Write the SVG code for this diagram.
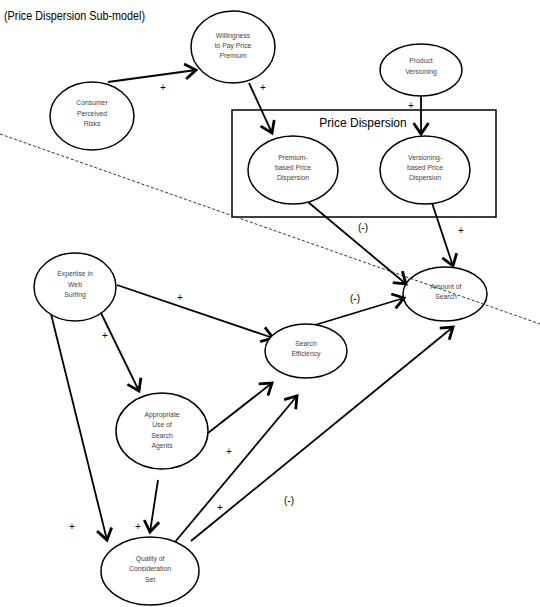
<svg xmlns="http://www.w3.org/2000/svg" width="540" height="607" viewBox="0 0 540 607">
<style>
.node ellipse{fill:#fff;stroke:#000;stroke-width:1.5}
.nt{font-family:"Liberation Sans","Open Sans",Arial,sans-serif;font-size:6.8px;fill:#444;text-anchor:middle}
.lbl{font-family:"Liberation Sans","Open Sans",Arial,sans-serif;font-size:10px;fill:#000;text-anchor:middle}
.conn line{stroke:#000;stroke-width:1.8;marker-end:url(#arr)}
</style>
<defs>
<marker id="arr" markerUnits="userSpaceOnUse" markerWidth="22" markerHeight="22" viewBox="-15 -11 17 22" refX="0" refY="0" orient="auto">
<path d="M-11,-7.5 L0,0 L-11,7.5" fill="none" stroke="#000" stroke-width="2.8" stroke-linejoin="miter"/>
</marker>
</defs>
<rect width="540" height="607" fill="#fff"/>
<text x="4" y="20" font-family="Liberation Sans, Open Sans, sans-serif" font-size="12.5" textLength="141" lengthAdjust="spacingAndGlyphs">(Price Dispersion Sub-model)</text>

<g id="price-dispersion-box">
<rect x="232" y="110" width="264" height="107" fill="none" stroke="#000" stroke-width="1.5"/>
<text x="363" y="127" font-family="Liberation Sans, Open Sans, sans-serif" font-size="12" text-anchor="middle">Price Dispersion</text>
</g>

<line x1="0" y1="134" x2="540" y2="324" stroke="#333" stroke-width="1" stroke-dasharray="3,2"/>

<g class="conn" id="connectors">
<line x1="108" y1="82" x2="196" y2="70"/>
<line x1="249" y1="83" x2="272" y2="133"/>
<line x1="421" y1="96" x2="421" y2="134"/>
<line x1="308" y1="202" x2="406" y2="284"/>
<line x1="432" y1="203" x2="453" y2="266"/>
<line x1="117" y1="285" x2="273" y2="338"/>
<line x1="315" y1="325" x2="404" y2="298"/>
<line x1="101" y1="313" x2="139" y2="391"/>
<line x1="51" y1="314" x2="107" y2="540"/>
<line x1="208" y1="433" x2="272" y2="383"/>
<line x1="158" y1="480" x2="150" y2="532"/>
<line x1="175" y1="542" x2="297" y2="396"/>
<line x1="191" y1="541" x2="453" y2="327"/>
</g>

<g id="labels">
<text class="lbl" x="163" y="91" font-size="14">+</text>
<text class="lbl" x="263" y="91" font-size="14">+</text>
<text class="lbl" x="411" y="109" font-size="14">+</text>
<text class="lbl" x="363" y="231">(-)</text>
<text class="lbl" x="461" y="234" font-size="13">+</text>
<text class="lbl" x="180" y="301" font-size="9">+</text>
<text class="lbl" x="355" y="302">(-)</text>
<text class="lbl" x="105" y="339" font-size="9">+</text>
<text class="lbl" x="229" y="455" font-size="9">+</text>
<text class="lbl" x="220" y="511" font-size="9">+</text>
<text class="lbl" x="289" y="504">(-)</text>
<text class="lbl" x="72" y="530" font-size="9">+</text>
<text class="lbl" x="138" y="530" font-size="9">+</text>
</g>

<g class="node" id="willingness">
<ellipse cx="233" cy="47" rx="42" ry="36"/>
<text class="nt" x="233" y="38">Willingness</text>
<text class="nt" x="233" y="48">to Pay Price</text>
<text class="nt" x="233" y="58">Premium</text>
</g>
<g class="node" id="consumer-perceived-risks">
<ellipse cx="92" cy="116" rx="42" ry="34"/>
<text class="nt" x="92" y="105">Consumer</text>
<text class="nt" x="92" y="116">Perceived</text>
<text class="nt" x="92" y="126">Risks</text>
</g>
<g class="node" id="product-versioning">
<ellipse cx="421" cy="70" rx="41" ry="26"/>
<text class="nt" x="421" y="63">Product</text>
<text class="nt" x="421" y="74">Versioning</text>
</g>
<g class="node" id="premium-based">
<ellipse cx="293" cy="170" rx="45" ry="34"/>
<text class="nt" x="293" y="160">Premium-</text>
<text class="nt" x="293" y="170">based Price</text>
<text class="nt" x="293" y="180">Dispersion</text>
</g>
<g class="node" id="versioning-based">
<ellipse cx="425" cy="170" rx="45" ry="34"/>
<text class="nt" x="425" y="160">Versioning-</text>
<text class="nt" x="425" y="170">based Price</text>
<text class="nt" x="425" y="180">Dispersion</text>
</g>
<g class="node" id="amount-of-search">
<ellipse cx="445" cy="294" rx="42" ry="27" style="fill:none"/>
<text class="nt" x="446" y="289">Amount of</text>
<text class="nt" x="446" y="299">Search</text>
</g>
<g class="node" id="expertise">
<ellipse cx="75" cy="287" rx="41" ry="34"/>
<text class="nt" x="75" y="276">Expertise in</text>
<text class="nt" x="75" y="287">Web</text>
<text class="nt" x="75" y="297">Surfing</text>
</g>
<g class="node" id="search-efficiency">
<ellipse cx="306" cy="351" rx="41" ry="27"/>
<text class="nt" x="306" y="346">Search</text>
<text class="nt" x="306" y="356">Efficiency</text>
</g>
<g class="node" id="appropriate-use">
<ellipse cx="162" cy="431" rx="46" ry="38"/>
<text class="nt" x="162" y="417">Appropriate</text>
<text class="nt" x="162" y="427">Use of</text>
<text class="nt" x="162" y="438">Search</text>
<text class="nt" x="162" y="448">Agents</text>
</g>
<g class="node" id="quality-consideration-set">
<ellipse cx="150" cy="571" rx="49" ry="34"/>
<text class="nt" x="150" y="561">Quality of</text>
<text class="nt" x="150" y="571">Consideration</text>
<text class="nt" x="150" y="582">Set</text>
</g>
</svg>
